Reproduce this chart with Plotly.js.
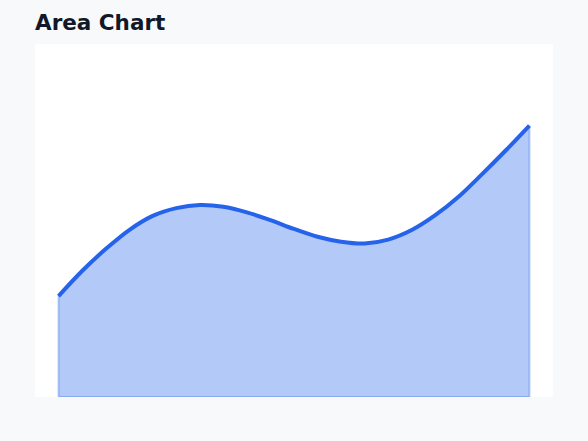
<!DOCTYPE html>
<html>
<head>
<meta charset="utf-8">
<script src="https://cdn.plot.ly/plotly-3.0.1.min.js"></script>
<style>
  html, body { margin: 0; padding: 0; background: #f8f9fb; }
  #chart { width: 588px; height: 441px; }
</style>
</head>
<body>
<div id="chart"></div>
<script>
// values
var xValues = [0, 0.5, 1, 1.5, 2, 2.5, 3, 3.5, 4, 4.5, 5,
               5.5, 6, 6.5, 7, 7.5, 8, 8.5, 9, 9.5, 10];
var yValues = [28.6, 35.7, 41.9, 47.3, 51.3, 53.5, 54.4, 53.9, 52.3, 50.1, 47.6,
               45.4, 44.0, 43.5, 44.6, 47.3, 51.5, 56.8, 63.2, 69.9, 76.9];

var lineColor = "#2563eb";
var fillColor = "rgba(37, 99, 235, 0.35)";

var last = xValues.length - 1;

// filled area under the curve
var area = {
  x: xValues,
  y: yValues,
  type: "scatter",
  mode: "lines",
  fill: "tozeroy",
  fillcolor: fillColor,
  line: {color: lineColor, width: 0, shape: "spline"},
  hoverinfo: "skip",
  showlegend: false
};

// faint outline along the sides and bottom of the area
var edge = {
  x: [xValues[0], xValues[0], xValues[last], xValues[last]],
  y: [yValues[0], 0, 0, yValues[last]],
  type: "scatter",
  mode: "lines",
  line: {color: "rgba(37, 99, 235, 0.3)", width: 2},
  hoverinfo: "skip",
  showlegend: false
};

// the thick curve on top
var curve = {
  x: xValues,
  y: yValues,
  type: "scatter",
  mode: "lines",
  line: {color: lineColor, width: 4, shape: "spline"},
  showlegend: false
};

var layout = {
  width: 588,
  height: 441,
  margin: {t: 44, b: 44, l: 35, r: 35},
  paper_bgcolor: "#f8f9fb",
  plot_bgcolor: "#ffffff",
  font: {family: "DejaVu Sans", color: "#111827"},
  title: {
    text: "<b>Area Chart</b>",
    font: {family: "DejaVu Sans", size: 21.5, color: "#111827"},
    x: 0,
    xref: "paper",
    xanchor: "left",
    y: 0.949,
    yref: "container",
    yanchor: "middle"
  },
  xaxis: {
    range: [-0.5, 10.5],
    visible: false,
    showgrid: false,
    zeroline: false
  },
  yaxis: {
    range: [0, 100],
    visible: false,
    showgrid: false,
    zeroline: false
  },
  showlegend: false
};

Plotly.newPlot("chart", [area, edge, curve], layout, {displayModeBar: false, staticPlot: true});
</script>
</body>
</html>
